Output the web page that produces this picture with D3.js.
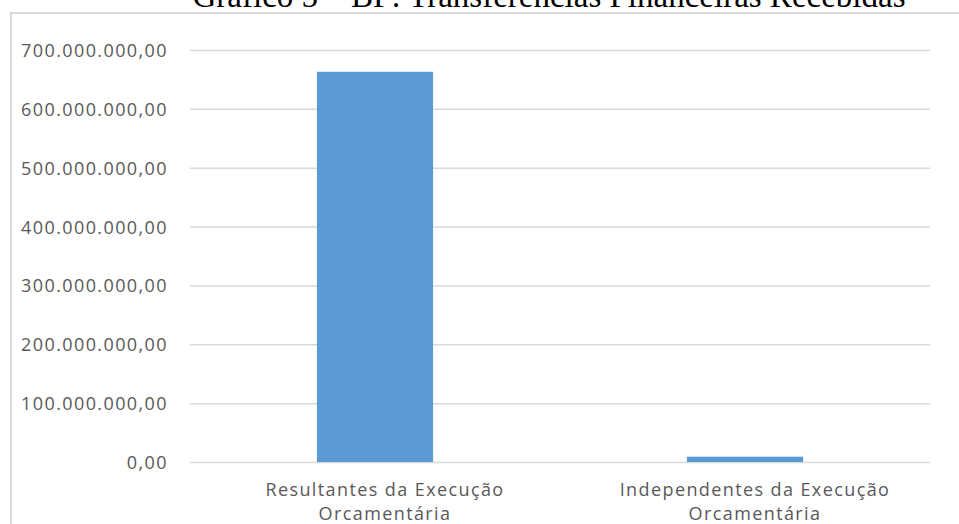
<!DOCTYPE html>
<html><head><meta charset="utf-8">
<script src="https://cdn.jsdelivr.net/npm/d3@7"></script>
<style>html,body{margin:0;padding:0;background:#fff;overflow:hidden}</style>
</head><body>
<script>
const title = "Gráfico 5 – BF: Transferências Financeiras Recebidas";
const categories = [["Resultantes da Execução","Orcamentária"],["Independentes da Execução","Orcamentária"]];
const values = [663000000, 9000000];
const yTicks = [0,100000000,200000000,300000000,400000000,500000000,600000000,700000000];

const W=959,H=524;
const svg=d3.select("body").append("svg").attr("width",W).attr("height",H);

svg.append("text").attr("x",549).attr("y",7).attr("text-anchor","middle")
  .attr("font-family","Liberation Serif, Times New Roman, serif").attr("font-size",33)
  .attr("fill","#000").text(title);

// frame
svg.append("path").attr("d","M11,524 V13 H959").attr("fill","none").attr("stroke","#d9d9d9").attr("stroke-width",2);

const x=d3.scaleBand().domain(d3.range(categories.length)).range([190,930]).padding(0);
const y=d3.scaleLinear().domain([0,700000000]).range([462,50]);

const fmt=v=>{const s=d3.format(",.2f")(v);return s.replace(/,/g,"#").replace(/\./g,",").replace(/#/g,".");};

const gy=svg.append("g").attr("transform","translate(190,0)")
  .call(d3.axisLeft(y).tickValues(yTicks).tickSize(-740).tickPadding(22).tickFormat(fmt));
gy.select(".domain").remove();
gy.selectAll("line").attr("stroke","#d9d9d9").attr("stroke-width",1.5);
gy.selectAll("text").attr("fill","#595959").attr("font-family","Open Sans, sans-serif").attr("font-size",18)
  .attr("letter-spacing","1.4px").attr("dy","0.36em");

const bw=x.bandwidth()*0.314;
svg.append("g").selectAll("rect").data(values).join("rect")
  .attr("x",(d,i)=>x(i)+x.bandwidth()/2-bw/2).attr("width",bw)
  .attr("y",d=>y(d)).attr("height",d=>y(0)-y(d)).attr("fill","#5b9bd5");

const gx=svg.append("g").attr("transform","translate(0,462)")
  .call(d3.axisBottom(x).tickSize(0).tickFormat(()=>""));
gx.select(".domain").remove();
gx.selectAll(".tick").each(function(d){
  const t=d3.select(this).append("text").attr("text-anchor","middle").attr("fill","#595959")
    .attr("font-family","Open Sans, sans-serif").attr("font-size",18).attr("letter-spacing","1.4px");
  categories[d].forEach((l,k)=>t.append("tspan").attr("x",10).attr("y",34+k*24).text(l));
});
</script>
</body></html>
